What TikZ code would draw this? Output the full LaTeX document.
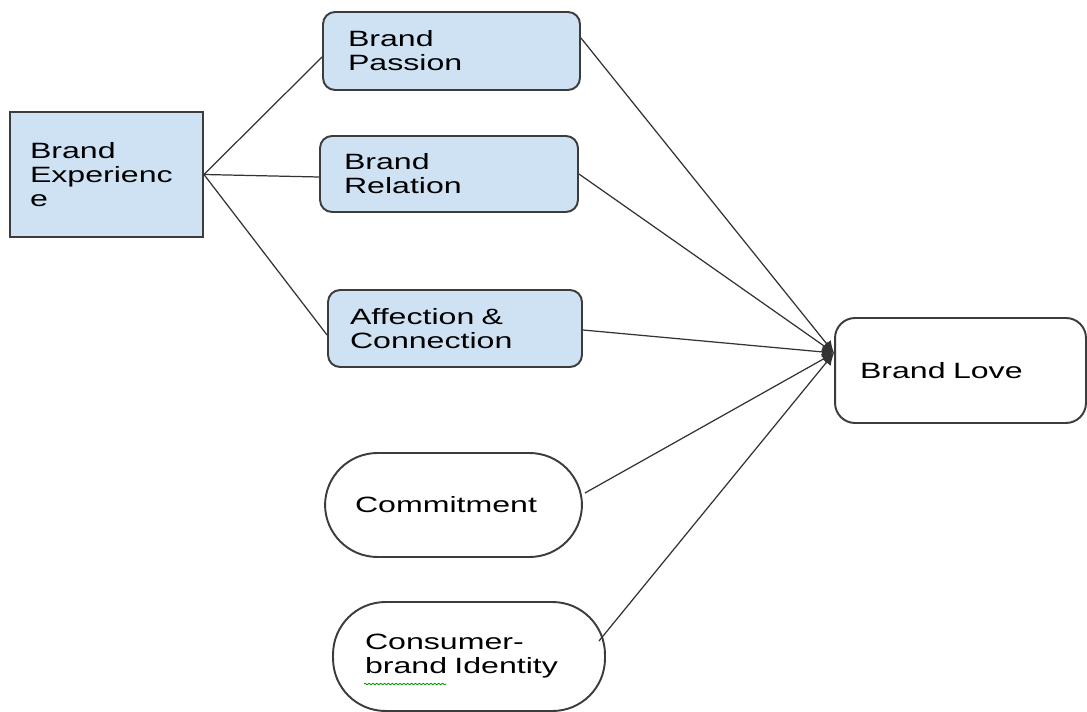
\documentclass[tikz,border=0pt]{standalone}
\usepackage{fontspec}
\setmainfont{Liberation Sans}[FakeStretch=1.45]
\usepackage{tikz}
\usetikzlibrary{arrows.meta,decorations.pathmorphing}

\definecolor{boxblue}{HTML}{CFE2F3}
\definecolor{boxline}{HTML}{3C3C3C}

\tikzset{
  card/.style={draw=boxline, line width=1.1pt, align=left,
    font=\fontsize{12.6}{13.6}\selectfont, inner xsep=0.5cm, inner ysep=0pt},
  bluecard/.style={card, fill=boxblue, rounded corners=0.24cm},
  pill/.style={card, fill=white, rounded corners=1.05cm},
  link/.style={draw=black!80, line width=0.7pt},
  tolove/.style={link, -{Latex[length=2.4mm,width=2.2mm]}}
}

\begin{document}
\begin{tikzpicture}[x=0.02cm, y=-0.02cm]
    \useasboundingbox[fill=white] (0,0) rectangle (1087,712);
    % Left driver
    \node[card, fill=boxblue, inner xsep=0.4cm, text width=3.06cm, minimum height=2.5cm]
      (exper) at (106.5,174.5) {Brand\\Experienc\\e};
    % Middle column, blue boxes
    \node[bluecard, text width=4.14cm, minimum height=1.56cm]
      (passion) at (451.5,51) {Brand\\Passion};
    \node[bluecard, inner xsep=0.48cm, text width=4.2cm, minimum height=1.52cm]
      (relation) at (449,174) {Brand\\Relation};
    \node[bluecard, inner xsep=0.44cm, text width=4.2cm, minimum height=1.54cm]
      (affect) at (455,328.5) {Affection \&\\Connection};
    % Middle column, white pills
    \node[pill, inner xsep=0.6cm, text width=3.94cm, minimum height=2.08cm]
      (commit) at (453.5,505) {Commitment};
    \node[pill, inner xsep=0.64cm, text width=4.16cm, minimum height=2.18cm]
      (ident) at (469,656.5) {Consumer-\\brand Identity};
    % Outcome
    \node[card, fill=white, rounded corners=0.4cm, text width=4.02cm, minimum height=2.1cm]
      (love) at (960.5,370.5) {Brand Love};
    \coordinate (lovein) at ([yshift=0.35cm]love.west);
    % Spell-check squiggle under "brand"
    \draw[green!60!black, line width=0.5pt,
      decorate, decoration={snake, amplitude=0.4pt, segment length=2.2pt}]
      (364,684) -- (446,684);
    % Experience to the three blue boxes
    \draw[link] (exper.east) -- ([yshift=-0.12cm]passion.west);
    \draw[link] (exper.east) -- ([yshift=-0.06cm]relation.west);
    \draw[link] (exper.east) -- ([yshift=-0.13cm]affect.west);
    % Everything into Brand Love
    \draw[tolove] ([yshift=0.26cm]passion.east) -- (lovein);
    \draw[tolove] (relation.east) -- (lovein);
    \draw[tolove] ([yshift=-0.03cm]affect.east) -- (lovein);
    \draw[tolove] ([xshift=0.04cm, yshift=0.24cm]commit.east) -- (lovein);
    \draw[tolove] ([xshift=-0.14cm, yshift=0.31cm]ident.east) -- (lovein);
\end{tikzpicture}
\end{document}
